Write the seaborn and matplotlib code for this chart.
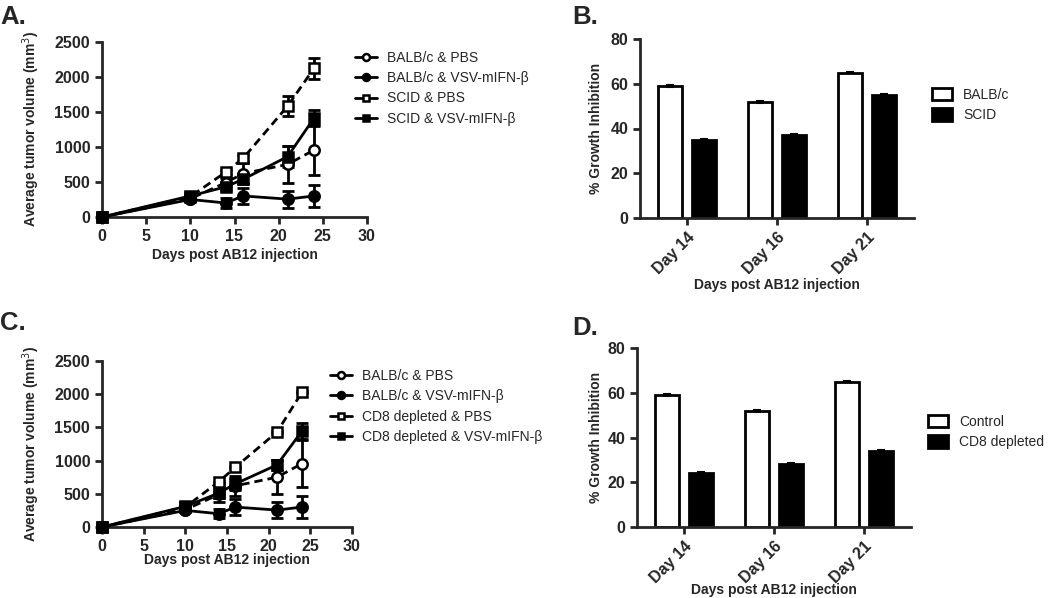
import numpy as np
import pandas as pd
import matplotlib.pyplot as plt
import seaborn as sns

sns.set_style('ticks')
plt.rcParams['font.family'] = ['Liberation Sans', 'DejaVu Sans']
plt.rcParams['axes.linewidth'] = 2

# Tumour growth curves (mm3)
days = [0, 10, 14, 16, 21, 24]

balb_pbs = [0, 260, 490, 620, 750, 955]
balb_pbs_err = [0, 20, 60, 150, 260, 360]
balb_vsv = [0, 250, 200, 300, 255, 300]
balb_vsv_err = [0, 20, 70, 120, 120, 160]
scid_pbs = [0, 290, 640, 840, 1580, 2120]
scid_pbs_err = [0, 20, 30, 40, 140, 150]
scid_vsv = [0, 300, 430, 540, 860, 1410]
scid_vsv_err = [0, 20, 40, 60, 150, 110]
cd8_pbs = [0, 300, 680, 900, 1430, 2030]
cd8_pbs_err = [0, 10, 15, 15, 15, 15]
cd8_vsv = [0, 310, 510, 650, 935, 1445]
cd8_vsv_err = [0, 20, 130, 90, 80, 115]

# % growth inhibition
bar_days = ['Day 14', 'Day 16', 'Day 21']
inh_balb = [59, 52, 65]
inh_scid = [35, 37, 55]
inh_ctrl = [59, 52, 65]
inh_cd8 = [24, 28, 34]
inh_err = [0.5, 0.4, 0.4]

fig = plt.figure(figsize=(10.5, 5.98), dpi=100)

def style_axis(ax):
    sns.despine(ax=ax)
    ax.tick_params(direction='out', length=5, width=2, labelsize=11.5)
    for lab in ax.get_xticklabels() + ax.get_yticklabels():
        lab.set_fontweight('bold')


def line_panel(ax, series, leg_xy):
    for name, vals, errs, mk, filled, dashed in series:
        ax.errorbar(days, vals, yerr=errs, fmt='none', ecolor='black', elinewidth=2,
                    capsize=4, capthick=2, clip_on=False, zorder=2)
        sns.lineplot(x=days, y=vals, ax=ax, color='black', lw=2, marker=mk, markersize=7.5,
                     markerfacecolor='black' if filled else 'white',
                     markeredgecolor='black', markeredgewidth=1.8,
                     linestyle=(0, (3, 1.8)) if dashed else '-', errorbar=None,
                     label=name, clip_on=False, zorder=3)
    ax.set_xlim(0, 30)
    ax.set_ylim(0, 2500)
    ax.set_xticks(range(0, 31, 5))
    ax.set_yticks(range(0, 2501, 500))
    ax.set_xlabel('Days post AB12 injection', fontsize=10, fontweight='bold')
    ax.set_ylabel('Average tumor volume (mm$^3$)', fontsize=10, fontweight='bold')
    style_axis(ax)
    leg = ax.legend(loc='upper left', bbox_to_anchor=leg_xy, bbox_transform=fig.transFigure,
                    frameon=False, fontsize=10, handlelength=1.6, handletextpad=0.7,
                    labelspacing=0.45, borderpad=0, borderaxespad=0)
    for h in leg.legend_handles:
        h.set_linestyle('-')
        h.set_markersize(5)


def bar_panel(ax, names, a, b, leg_xy):
    df = pd.DataFrame({'day': bar_days * 2, 'val': a + b,
                       'grp': [names[0]] * 3 + [names[1]] * 3})
    sns.barplot(data=df, x='day', y='val', hue='grp', palette=['white', 'black'],
                saturation=1, edgecolor='black', linewidth=2, width=0.76, gap=0.3,
                errorbar=None, ax=ax)
    bars = list(ax.containers)
    for cont in bars:
        xs = [p.get_x() + p.get_width() / 2 for p in cont]
        hs = [p.get_height() for p in cont]
        ax.errorbar(xs, hs, yerr=inh_err, fmt='none', ecolor='black', elinewidth=1.5,
                    capsize=3, capthick=1.5)
    ax.set_xlim(-0.52, 2.52)
    ax.set_ylim(0, 80)
    ax.set_yticks(range(0, 81, 20))
    ax.set_xlabel('Days post AB12 injection', fontsize=10, fontweight='bold')
    ax.set_ylabel('% Growth Inhibition', fontsize=10, fontweight='bold')
    style_axis(ax)
    plt.setp(ax.get_xticklabels(), rotation=45, ha='right', rotation_mode='anchor')
    ax.legend(loc='upper left', bbox_to_anchor=leg_xy, bbox_transform=fig.transFigure,
              frameon=False, fontsize=10, handlelength=1.45, handleheight=1.0,
              handletextpad=0.8, labelspacing=0.45, borderpad=0, borderaxespad=0)


# A
axA = fig.add_axes([102 / 1050, 1 - 217 / 598, 265 / 1050, 175.3 / 598])
line_panel(axA, [
    ('BALB/c & PBS', balb_pbs, balb_pbs_err, 'o', False, True),
    ('BALB/c & VSV-mIFN-β', balb_vsv, balb_vsv_err, 'o', True, False),
    ('SCID & PBS', scid_pbs, scid_pbs_err, 's', False, True),
    ('SCID & VSV-mIFN-β', scid_vsv, scid_vsv_err, 's', True, False),
], (355 / 1050, 1 - 51 / 598))
axA.yaxis.set_label_coords(-0.227, 0.5)
axA.xaxis.set_label_coords(0.5, -0.215)
axA.xaxis.label.set_va('center')

# B
axB = fig.add_axes([640 / 1050, 1 - 218 / 598, 274 / 1050, 179 / 598])
bar_panel(axB, ['BALB/c', 'SCID'], inh_balb, inh_scid, (932 / 1050, 1 - 88 / 598))
axB.yaxis.set_label_coords(-0.135, 0.5)
axB.xaxis.set_label_coords(0.5, -0.374)
axB.xaxis.label.set_va('center')

# C
axC = fig.add_axes([102 / 1050, 1 - 527 / 598, 250 / 1050, 166 / 598])
line_panel(axC, [
    ('BALB/c & PBS', balb_pbs, balb_pbs_err, 'o', False, True),
    ('BALB/c & VSV-mIFN-β', balb_vsv, balb_vsv_err, 'o', True, False),
    ('CD8 depleted & PBS', cd8_pbs, cd8_pbs_err, 's', False, True),
    ('CD8 depleted & VSV-mIFN-β', cd8_vsv, cd8_vsv_err, 's', True, False),
], (330 / 1050, 1 - 369 / 598))
axC.yaxis.set_label_coords(-0.24, 0.5)
axC.xaxis.set_label_coords(0.5, -0.2)
axC.xaxis.label.set_va('center')

# D
axD = fig.add_axes([637 / 1050, 1 - 527 / 598, 274 / 1050, 179 / 598])
bar_panel(axD, ['Control', 'CD8 depleted'], inh_ctrl, inh_cd8, (928 / 1050, 1 - 415 / 598))
axD.yaxis.set_label_coords(-0.124, 0.5)
axD.xaxis.set_label_coords(0.5, -0.352)
axD.xaxis.label.set_va('center')

# panel letters
for lab, x, y in [('A.', 0, 5), ('B.', 572, 5), ('C.', 0, 311), ('D.', 572, 316)]:
    fig.text(x / 1050, 1 - y / 598, lab, fontsize=18.5, fontweight='bold', va='top', ha='left')

fig.savefig('out.png', dpi=100)
